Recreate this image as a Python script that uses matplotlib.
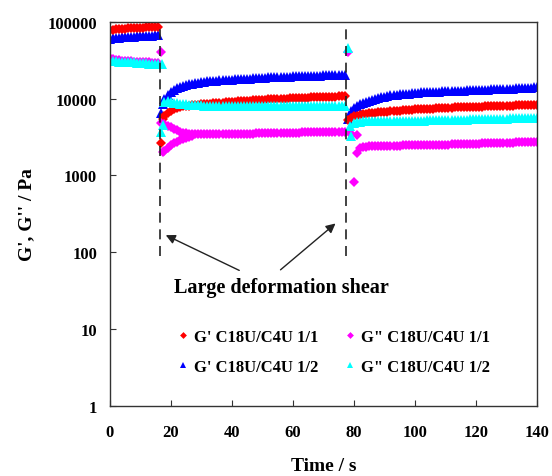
import matplotlib
matplotlib.use('Agg')
import matplotlib.pyplot as plt
from matplotlib.lines import Line2D
import numpy as np

plt.rcParams['font.family'] = ['Liberation Serif', 'DejaVu Serif']
plt.rcParams['font.weight'] = 'bold'

# time axis (s): before, between and after the two large-deformation shears
t_pre = list(range(0, 17))
t_mid = list(range(17, 78))
t_post = list(range(78, 141))

# G' C18U/C4U 1/1
gp11_pre = [78000, 79000, 80000, 80000, 81000, 81000, 82000, 82000, 82000, 83000,
            83000, 83000, 84000, 84000, 84000, 85000, 85000]
gp11_mid = [2600, 6000, 6500, 6900, 7200, 7500, 7700, 7900, 8000, 8100,
            8200, 8300, 8350, 8400, 8450, 8500, 8600, 8650, 8700, 8800,
            8850, 8900, 8950, 9000, 9100, 9150, 9200, 9300, 9350, 9400,
            9500, 9550, 9600, 9650, 9700, 9750, 9800, 9850, 9900, 9950,
            10000, 10000, 10100, 10100, 10200, 10200, 10300, 10300, 10300, 10400,
            10400, 10400, 10500, 10500, 10500, 10600, 10600, 10600, 10700, 10700,
            10700]
gp11_post = [5300, 5600, 5900, 6000, 6100, 6200, 6300, 6400, 6450, 6500,
             6600, 6650, 6700, 6750, 6800, 6850, 6900, 6950, 7000, 7050,
             7100, 7150, 7200, 7250, 7300, 7300, 7350, 7400, 7400, 7450,
             7500, 7500, 7550, 7600, 7600, 7650, 7650, 7700, 7700, 7750,
             7750, 7800, 7800, 7850, 7850, 7900, 7900, 7950, 7950, 8000,
             8000, 8050, 8050, 8100, 8100, 8150, 8150, 8200, 8200, 8250,
             8250, 8300, 8300]
gp11_extra_t = [17.5]
gp11_extra = [5400]

# G' C18U/C4U 1/2
gp12_pre = [60000, 61000, 62000, 62000, 63000, 63000, 64000, 64000, 64000, 65000,
            65000, 65000, 66000, 66000, 66000, 67000, 67000]
gp12_mid = [6400, 9800, 11200, 12300, 13000, 13600, 14100, 14600, 15000, 15300,
            15600, 15900, 16100, 16300, 16500, 16700, 16800, 17000, 17100, 17200,
            17300, 17400, 17500, 17600, 17700, 17800, 17900, 18000, 18100, 18200,
            18300, 18400, 18500, 18600, 18700, 18800, 18900, 18900, 19000, 19100,
            19200, 19200, 19300, 19400, 19400, 19500, 19600, 19600, 19700, 19700,
            19800, 19900, 19900, 20000, 20000, 20100, 20100, 20200, 20200, 20300,
            20300]
gp12_post = [5400, 6800, 7500, 8000, 8400, 8800, 9100, 9400, 9700, 10000,
             10200, 10400, 10600, 10800, 11000, 11100, 11200, 11300, 11400, 11500,
             11600, 11700, 11800, 11900, 12000, 12000, 12100, 12200, 12200, 12300,
             12300, 12400, 12400, 12500, 12500, 12600, 12600, 12700, 12700, 12800,
             12800, 12900, 12900, 13000, 13000, 13100, 13100, 13200, 13200, 13300,
             13300, 13400, 13400, 13500, 13500, 13600, 13600, 13700, 13700, 13800,
             13900, 14000, 14100]
gp12_extra_t = [17.5]
gp12_extra = [8500]

# G'' C18U/C4U 1/1
gpp11_pre = [34000, 33000, 32000, 31500, 31000, 31000, 30500, 30500, 30000, 30000,
             30000, 29500, 29500, 29500, 29000, 29000, 29000]
gpp11_mid = [4800, 4600, 4400, 4200, 4000, 3850, 3700, 3600, 3550, 3500,
             3450, 3450, 3450, 3450, 3450, 3450, 3450, 3450, 3450, 3450,
             3450, 3450, 3450, 3500, 3500, 3500, 3500, 3500, 3500, 3500,
             3500, 3550, 3550, 3550, 3550, 3550, 3550, 3550, 3600, 3600,
             3600, 3600, 3600, 3600, 3600, 3600, 3650, 3650, 3650, 3650,
             3650, 3650, 3650, 3700, 3700, 3700, 3700, 3700, 3700, 3700,
             3700]
gpp11_post = [40000, 3500, 810, 1950, 2300, 2350, 2350, 2400, 2400, 2400,
              2400, 2400, 2420, 2420, 2420, 2440, 2440, 2440, 2450, 2450,
              2450, 2460, 2460, 2470, 2470, 2480, 2480, 2490, 2490, 2500,
              2500, 2510, 2520, 2520, 2530, 2540, 2540, 2550, 2560, 2560,
              2570, 2580, 2580, 2590, 2600, 2600, 2610, 2620, 2620, 2630,
              2640, 2650, 2650, 2660, 2670, 2680, 2680, 2690, 2700, 2710,
              2720, 2730, 2750]
# lower branch right after the first shear, plus isolated points
gpp11_extra_t = [16.8, 17.5, 18, 19, 20, 21, 22, 23, 24, 25, 26, 27, 78.9, 81]
gpp11_extra = [40000, 2000, 2100, 2300, 2450, 2600, 2750, 2900, 3000, 3100, 3200, 3300,
               3600, 3400]

# G'' C18U/C4U 1/2
gpp12_pre = [31000, 30500, 30500, 30000, 30000, 30000, 29500, 29500, 29500, 29000,
             29000, 29000, 29000, 28500, 28500, 28500, 28500]
gpp12_mid = [3700, 9000, 9200, 9000, 8800, 8700, 8600, 8500, 8400, 8300,
             8300, 8200, 8200, 8200, 8100, 8100, 8100, 8100, 8000, 8000,
             8000, 8000, 8000, 8000, 8000, 8000, 8000, 8000, 8000, 8000,
             8000, 8000, 8000, 8000, 8000, 8000, 8000, 8000, 8000, 8000,
             8000, 8000, 8000, 8000, 8000, 8000, 8000, 8000, 8000, 8000,
             8000, 8000, 8000, 8000, 8000, 8000, 8000, 8000, 8000, 8000,
             8000]
gpp12_post = [45000, 3300, 4800, 5000, 5000, 5050, 5050, 5100, 5100, 5100,
              5100, 5100, 5100, 5100, 5100, 5100, 5100, 5100, 5100, 5100,
              5100, 5100, 5150, 5150, 5150, 5150, 5200, 5200, 5200, 5200,
              5200, 5250, 5250, 5250, 5250, 5300, 5300, 5300, 5300, 5300,
              5350, 5350, 5350, 5350, 5400, 5400, 5400, 5400, 5400, 5450,
              5450, 5450, 5450, 5500, 5500, 5500, 5500, 5500, 5550, 5550,
              5550, 5600, 5600]
gpp12_extra_t = [17.2, 17.5, 78.9]
gpp12_extra = [28000, 4500, 4400]

shear_times = [16.4, 77.5]

series = [
    ("G' C18U/C4U 1/2", gp12_pre, gp12_mid, gp12_post, gp12_extra_t, gp12_extra, '#0000ff', '^', 7.0),
    ("G' C18U/C4U 1/1", gp11_pre, gp11_mid, gp11_post, gp11_extra_t, gp11_extra, '#ff0000', 'D', 5.6),
    ('G" C18U/C4U 1/1', gpp11_pre, gpp11_mid, gpp11_post, gpp11_extra_t, gpp11_extra, '#ff00ff', 'D', 5.6),
    ('G" C18U/C4U 1/2', gpp12_pre, gpp12_mid, gpp12_post, gpp12_extra_t, gpp12_extra, '#00ffff', '^', 7.0),
]

fig = plt.figure(figsize=(5.52, 4.77), dpi=100)
ax = fig.add_axes([0.1984, 0.1468, 0.7745, 0.8057])

handles = {}
for label, pre, mid, post, ext_t, ext, col, mk, ms in series:
    t = np.concatenate([t_pre, t_mid, t_post, ext_t])
    v = np.concatenate([pre, mid, post, ext])
    ax.plot(t, v, linestyle='none', marker=mk, ms=ms, color=col, mec=col, mew=0)
    handles[label] = Line2D([], [], linestyle='none', marker=mk, ms=ms * 0.62,
                            color=col, mec=col, mew=0)

ax.vlines(shear_times, 90, 1e5, colors='#222222', linestyles=(0, (6, 4)), lw=1.2)

ax.set_yscale('log')
ax.set_xlim(0, 140)
ax.set_ylim(1, 1e5)
ax.set_xticks(range(0, 141, 20))
ax.set_yticks([1, 10, 100, 1000, 10000, 100000])
ax.set_yticklabels(['1', '10', '100', '1000', '10000', '100000'])
ax.minorticks_off()
ax.tick_params(axis='both', direction='in', length=4, labelsize=12, colors='#333333',
               labelcolor='black')
ax.tick_params(axis='x', pad=13)
ax.tick_params(axis='y', pad=9)
for lbl in ax.get_xticklabels() + ax.get_yticklabels():
    lbl.set_fontweight('bold')
for sp in ax.spines.values():
    sp.set_color('#333333')
    sp.set_linewidth(1.0)

ax.set_xlabel('Time / s', fontsize=14, fontweight='bold', labelpad=12)
ax.set_ylabel("G', G'' / Pa", fontsize=14, fontweight='bold', labelpad=9)

ax.text(56.4, 35, 'Large deformation shear', ha='center', va='center',
        fontsize=14.5, fontweight='bold')
arrow = dict(arrowstyle='-|>', color='#222222', lw=1.0, mutation_scale=14)
ax.annotate('', xy=(17.6, 173), xytext=(43.3, 56), arrowprops=arrow)
ax.annotate('', xy=(74.7, 250), xytext=(55.3, 56), arrowprops=arrow)

order = ["G' C18U/C4U 1/1", "G' C18U/C4U 1/2", 'G" C18U/C4U 1/1', 'G" C18U/C4U 1/2']
leg = ax.legend([handles[k] for k in order], order, ncol=2, frameon=False,
                loc='upper left', bbox_to_anchor=(0.14, 0.222), borderpad=0,
                handlelength=0.6, handletextpad=0.35, columnspacing=1.65,
                labelspacing=0.85, prop={'family': 'Liberation Serif', 'weight': 'bold', 'size': 12})

fig.savefig('out.png', dpi=100)
plt.close(fig)
